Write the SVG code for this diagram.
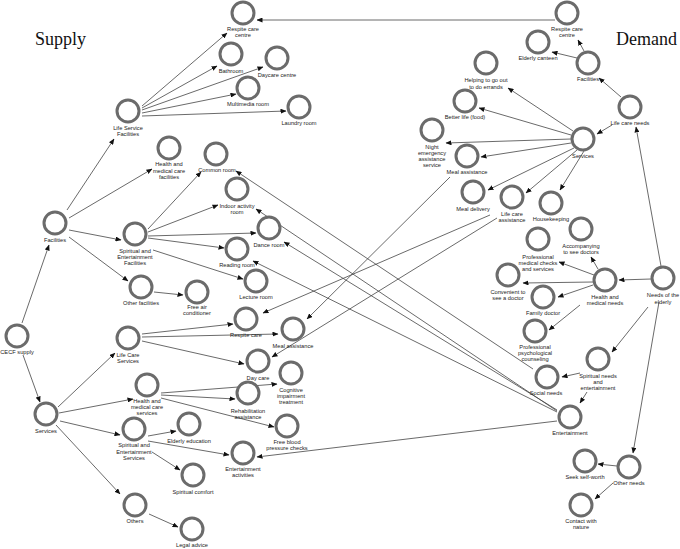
<svg xmlns="http://www.w3.org/2000/svg" width="680" height="549" viewBox="0 0 680 549">
<style>
.n circle{fill:#fff;stroke:#6b6b6b;stroke-width:3}
.n text{font-family:"Liberation Sans",Arial,sans-serif;font-size:5.7px;fill:#222;text-anchor:middle}
.t{font-family:"Liberation Serif","Times New Roman",serif;font-size:18px;fill:#111}
#edges path{fill:none;stroke:#444;stroke-width:0.8;marker-end:url(#ah)}
</style>
<defs>
<marker id="ah" markerUnits="userSpaceOnUse" markerWidth="6" markerHeight="5" refX="5.5" refY="2.5" orient="auto">
<path d="M0,0 L6,2.5 L0,5 z" fill="#111"/>
</marker>
</defs>
<rect width="680" height="549" fill="#fff"/>
<text class="t" x="35" y="45">Supply</text>
<text class="t" x="616" y="45">Demand</text>
<g id="edges">
<path d="M22,323 L49,245"/>
<path d="M23,355 L40,402"/>
<path d="M67,210 L114,139"/>
<path d="M69,218 L152,169"/>
<path d="M69,230 L121,240"/>
<path d="M69,237 L128,281"/>
<path d="M142,106 L227,33"/>
<path d="M142,108 L217,66"/>
<path d="M142,110 L263,67"/>
<path d="M142,113 L236,94"/>
<path d="M142,116 L286,111"/>
<path d="M148,229 L201,172"/>
<path d="M148,232 L218,205"/>
<path d="M148,236 L256,233"/>
<path d="M148,238 L224,248"/>
<path d="M153,250 L243,279"/>
<path d="M154,292 L183,295"/>
<path d="M58,407 L115,353"/>
<path d="M59,413 L133,399"/>
<path d="M60,421 L120,435"/>
<path d="M56,425 L120,494"/>
<path d="M142,334 L233,324"/>
<path d="M142,337 L278,334"/>
<path d="M142,341 L244,364"/>
<path d="M161,393 L277,384"/>
<path d="M161,395 L235,399"/>
<path d="M161,398 L274,427"/>
<path d="M148,436 L176,431"/>
<path d="M148,441 L229,455"/>
<path d="M152,452 L180,470"/>
<path d="M149,514 L178,527"/>
<path d="M661,266 L636,127"/>
<path d="M651,279 L619,280"/>
<path d="M648,307 L612,352"/>
<path d="M659,302 L633,453"/>
<path d="M621,97 L599,78"/>
<path d="M612,125 L597,134"/>
<path d="M584,51 L578,40"/>
<path d="M577,58 L552,52"/>
<path d="M573,131 L508,88"/>
<path d="M571,135 L479,108"/>
<path d="M571,139 L446,143"/>
<path d="M571,143 L481,157"/>
<path d="M574,148 L488,190"/>
<path d="M577,150 L526,193"/>
<path d="M584,151 L560,190"/>
<path d="M598,269 L591,257"/>
<path d="M594,275 L559,262"/>
<path d="M593,282 L523,283"/>
<path d="M593,285 L558,297"/>
<path d="M580,305 L549,330"/>
<path d="M580,373 L562,377"/>
<path d="M587,392 L580,403"/>
<path d="M617,466 L598,464"/>
<path d="M613,483 L595,499"/>
<path d="M555,20 L257,20"/>
<path d="M557,421 L257,457"/>
<path d="M557,411 L256,209"/>
<path d="M557,410 L284,242"/>
<path d="M557,412 L253,261"/>
<path d="M533,369 L236,171"/>
<path d="M450,177 L307,319"/>
<path d="M490,215 L263,313"/>
<path d="M497,218 L272,357"/>
</g>
<g id="cecf" class="n"><circle cx="17" cy="336" r="11"/><text x="17" y="354">CECF supply</text></g>
<g id="s_fac" class="n"><circle cx="55" cy="223" r="11"/><text x="55" y="242">Facilities</text></g>
<g id="s_srv" class="n"><circle cx="46" cy="414" r="11"/><text x="46" y="433">Services</text></g>
<g id="lsf" class="n"><circle cx="128" cy="111" r="11"/><text x="128" y="130">Life Service</text><text x="128" y="136">Facilities</text></g>
<g id="hmcf" class="n"><circle cx="169" cy="148" r="11"/><text x="169" y="166">Health and</text><text x="169" y="172.5">medical care</text><text x="169" y="179">facilities</text></g>
<g id="sef" class="n"><circle cx="135" cy="234" r="11"/><text x="135" y="253">Spiritual and</text><text x="135" y="259">Entertainment</text><text x="135" y="265">Facilities</text></g>
<g id="of" class="n"><circle cx="141" cy="287" r="11"/><text x="141" y="305">Other facilities</text></g>
<g id="s_rcc" class="n"><circle cx="243" cy="13" r="11"/><text x="243" y="31">Respite care</text><text x="243" y="37">centre</text></g>
<g id="bath" class="n"><circle cx="231" cy="54" r="11"/><text x="231" y="73">Bathroom</text></g>
<g id="dcc" class="n"><circle cx="277" cy="58" r="11"/><text x="277" y="77">Daycare centre</text></g>
<g id="mm" class="n"><circle cx="248" cy="88" r="11"/><text x="248" y="106">Multimedia room</text></g>
<g id="laundry" class="n"><circle cx="299" cy="107" r="11"/><text x="299" y="125">Laundry room</text></g>
<g id="common" class="n"><circle cx="216" cy="154" r="11"/><text x="217" y="172">Common room</text></g>
<g id="indoor" class="n"><circle cx="237" cy="189" r="11"/><text x="237" y="208">Indoor activity</text><text x="237" y="214">room</text></g>
<g id="dance" class="n"><circle cx="269" cy="228" r="11"/><text x="269" y="247">Dance room</text></g>
<g id="reading" class="n"><circle cx="237" cy="249" r="11"/><text x="237" y="267">Reading room</text></g>
<g id="lecture" class="n"><circle cx="256" cy="281" r="11"/><text x="256" y="299">Lecture room</text></g>
<g id="fac_ac" class="n"><circle cx="197" cy="292" r="11"/><text x="197" y="309">Free air</text><text x="197" y="315">conditioner</text></g>
<g id="lcs" class="n"><circle cx="128" cy="338" r="11"/><text x="128" y="357">Life Care</text><text x="128" y="363">Services</text></g>
<g id="s_rc" class="n"><circle cx="246" cy="319" r="11"/><text x="246" y="337">Respite care</text></g>
<g id="s_ma" class="n"><circle cx="293" cy="329" r="11"/><text x="293" y="348">Meal assistance</text></g>
<g id="daycare" class="n"><circle cx="258" cy="361" r="11"/><text x="258" y="380">Day care</text></g>
<g id="hmcs" class="n"><circle cx="147" cy="385" r="11"/><text x="147" y="403">Health and</text><text x="147" y="409">medical care</text><text x="147" y="415">services</text></g>
<g id="cit" class="n"><circle cx="291" cy="373" r="11"/><text x="291" y="392">Cognitive</text><text x="291" y="398">impairment</text><text x="291" y="404">treatment</text></g>
<g id="rehab" class="n"><circle cx="248" cy="393" r="11"/><text x="248" y="413">Rehabilitation</text><text x="248" y="419">assistance</text></g>
<g id="fbpc" class="n"><circle cx="287" cy="426" r="11"/><text x="287" y="444">Free blood</text><text x="287" y="450">pressure checks</text></g>
<g id="ses" class="n"><circle cx="134" cy="429" r="11"/><text x="134" y="447">Spiritual and</text><text x="134" y="453.5">Entertainment</text><text x="134" y="459.5">Services</text></g>
<g id="eedu" class="n"><circle cx="189" cy="424" r="11"/><text x="189" y="443">Elderly education</text></g>
<g id="ent_act" class="n"><circle cx="243" cy="453" r="11"/><text x="243" y="471">Entertainment</text><text x="243" y="477">activities</text></g>
<g id="scomf" class="n"><circle cx="193" cy="475" r="11"/><text x="193" y="494">Spiritual comfort</text></g>
<g id="others" class="n"><circle cx="135" cy="505" r="11"/><text x="135" y="523">Others</text></g>
<g id="legal" class="n"><circle cx="192" cy="529" r="11"/><text x="192" y="547">Legal advice</text></g>
<g id="d_rcc" class="n"><circle cx="567" cy="13" r="11"/><text x="567" y="31">Respite care</text><text x="567" y="37">centre</text></g>
<g id="canteen" class="n"><circle cx="538" cy="42" r="11"/><text x="538" y="60">Elderly canteen</text></g>
<g id="d_fac" class="n"><circle cx="588" cy="63" r="11"/><text x="588" y="81">Facilities</text></g>
<g id="errands" class="n"><circle cx="486" cy="63" r="11"/><text x="486" y="82">Helping to go out</text><text x="486" y="88.5">to do errands</text></g>
<g id="betterlife" class="n"><circle cx="465" cy="101" r="11"/><text x="465" y="119">Better life (food)</text></g>
<g id="lcn" class="n"><circle cx="630" cy="107" r="11"/><text x="630" y="125">Life care needs</text></g>
<g id="d_srv" class="n"><circle cx="583" cy="139" r="11"/><text x="583" y="158">Services</text></g>
<g id="night" class="n"><circle cx="432" cy="130" r="11"/><text x="432" y="149">Night</text><text x="432" y="155">emergency</text><text x="432" y="161">assistance</text><text x="432" y="167">service</text></g>
<g id="d_ma" class="n"><circle cx="467" cy="156" r="11"/><text x="467" y="174">Meal assistance</text></g>
<g id="mdel" class="n"><circle cx="473" cy="192" r="11"/><text x="473" y="211">Meal delivery</text></g>
<g id="lca" class="n"><circle cx="512" cy="197" r="11"/><text x="512" y="216">Life care</text><text x="512" y="222">assistance</text></g>
<g id="hk" class="n"><circle cx="551" cy="203" r="11"/><text x="551" y="221">Housekeeping</text></g>
<g id="accomp" class="n"><circle cx="581" cy="229" r="11"/><text x="581" y="248">Accompanying</text><text x="581" y="254">to see doctors</text></g>
<g id="pmc" class="n"><circle cx="538" cy="239" r="11"/><text x="538" y="259">Professional</text><text x="538" y="265">medical checks</text><text x="538" y="270.5">and services</text></g>
<g id="conv" class="n"><circle cx="508" cy="275" r="11"/><text x="508" y="294">Convenient to</text><text x="508" y="300">see a doctor</text></g>
<g id="famdoc" class="n"><circle cx="543" cy="297" r="11"/><text x="543" y="315">Family doctor</text></g>
<g id="hmn" class="n"><circle cx="605" cy="280" r="11"/><text x="605" y="299">Health and</text><text x="605" y="305">medical needs</text></g>
<g id="needs" class="n"><circle cx="663" cy="278" r="11"/><text x="663" y="297">Needs of the</text><text x="663" y="304">elderly</text></g>
<g id="ppc" class="n"><circle cx="535" cy="331" r="11"/><text x="535" y="349">Professional</text><text x="535" y="355">psychological</text><text x="535" y="361">counseling</text></g>
<g id="sne" class="n"><circle cx="598" cy="359" r="11"/><text x="598" y="378">Spiritual needs</text><text x="598" y="384">and</text><text x="598" y="390">entertainment</text></g>
<g id="social" class="n"><circle cx="547" cy="377" r="11"/><text x="546" y="395">Social needs</text></g>
<g id="ent" class="n"><circle cx="570" cy="417" r="11"/><text x="570" y="435">Entertainment</text></g>
<g id="ssw" class="n"><circle cx="585" cy="461" r="11"/><text x="585" y="479">Seek self-worth</text></g>
<g id="othn" class="n"><circle cx="629" cy="467" r="11"/><text x="629" y="485">Other needs</text></g>
<g id="nature" class="n"><circle cx="581" cy="505" r="11"/><text x="581" y="523">Contact with</text><text x="581" y="529">nature</text></g>
</svg>
